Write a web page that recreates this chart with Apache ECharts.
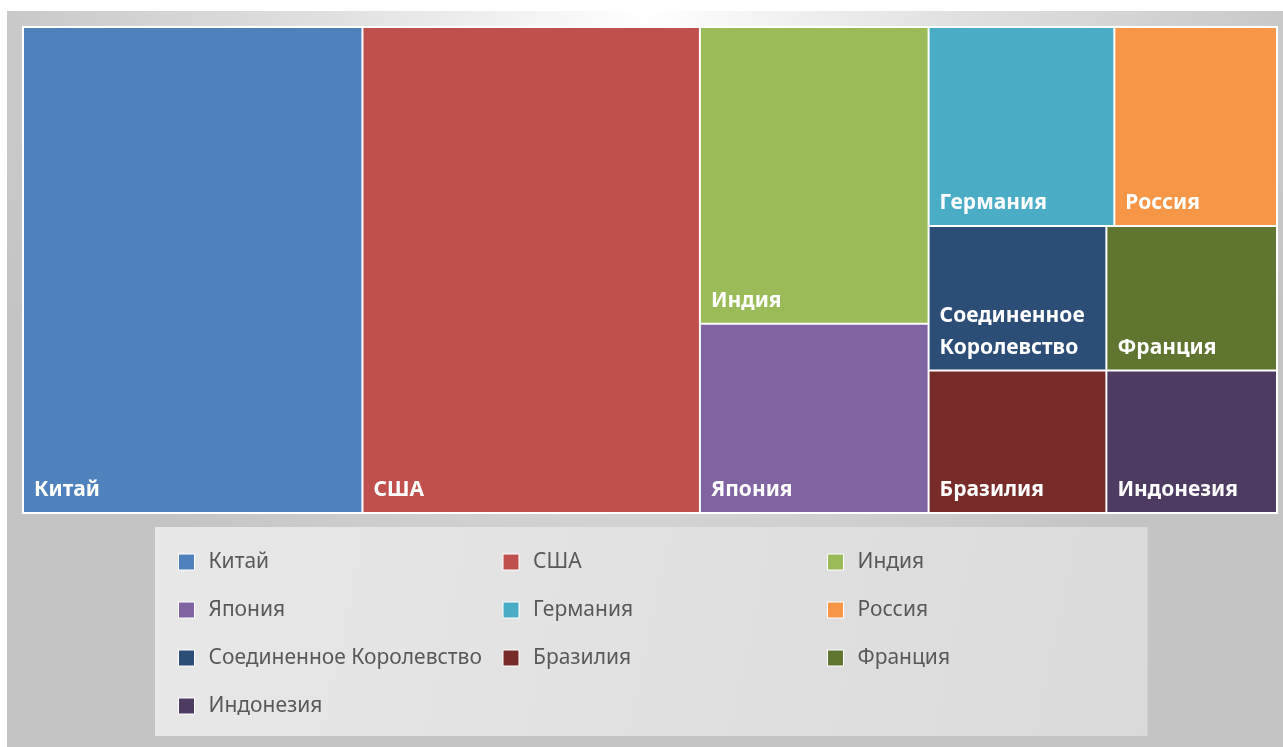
<!DOCTYPE html>
<html>
<head>
<meta charset="utf-8">
<script src="https://cdn.jsdelivr.net/npm/echarts@6/dist/echarts.min.js"></script>
<style>
  html, body { margin: 0; padding: 0; background: #fff; }
  #main { position: absolute; left: 7px; top: 11px; width: 1276px; height: 736px; }
</style>
</head>
<body>
<div id="main"></div>
<script>
  // категории и значения (оценка по площади прямоугольников)
  var countries = ['Китай', 'США', 'Индия', 'Япония', 'Германия', 'Россия',
    'Соединенное Королевство', 'Бразилия', 'Франция', 'Индонезия']
  var values = [27.3, 27.14, 11.23, 7.16, 6.12, 5.36, 4.25, 4.19, 4.08, 4.02]
  var colors = ['#4F81BD', '#C0504D', '#9BBB59', '#8064A2', '#4BACC6', '#F79646',
    '#2C4D75', '#772C2A', '#5F7530', '#4D3B62']

  var myChart = echarts.init(document.getElementById('main'))

  var treeData = countries.map(function (name, i) {
    return { name: name, value: values[i], itemStyle: { color: colors[i] } }
  })
  var legendData = countries.map(function (name, i) {
    return { name: name, value: values[i], itemStyle: { color: colors[i] } }
  })

  var option = {
    backgroundColor: {
      type: 'radial', x: 0.5, y: 0.0, r: 0.95,
      colorStops: [
        { offset: 0, color: '#ffffff' },
        { offset: 0.45, color: '#e0e0e0' },
        { offset: 1, color: '#c4c4c4' },
      ],
    },
    animation: false,
    legend: {
      left: 148,
      top: 516,
      width: 960,
      padding: [20, 14, 15, 23],
      itemGap: 18,
      itemWidth: 16,
      itemHeight: 16,
      icon: 'rect',
      backgroundColor: {
        type: 'linear', x: 0, y: 0, x2: 1, y2: 1,
        colorStops: [
          { offset: 0, color: '#e8e8e8' },
          { offset: 1, color: '#dadada' },
        ],
      },
      itemStyle: { borderColor: '#ffffff', borderWidth: 1 },
      textStyle: {
        fontFamily: 'Noto Sans',
        fontSize: 21,
        color: '#595959',
        width: 276,
        overflow: 'none',
        lineHeight: 30,
        padding: [0, 0, 0, 9],
      },
      data: countries,
      selectedMode: false,
    },
    series: [
      {
        // только для легенды
        type: 'pie',
        radius: [0, 0],
        center: [-100, -100],
        silent: true,
        label: { show: false },
        labelLine: { show: false },
        data: legendData,
      },
      {
        type: 'treemap',
        left: 15,
        top: 15,
        width: 1256,
        height: 488,
        squareRatio: 1,
        roam: false,
        nodeClick: false,
        breadcrumb: { show: false },
        itemStyle: { borderColor: '#ffffff', borderWidth: 1, gapWidth: 0 },
        label: {
          show: true,
          position: 'insideBottomLeft',
          fontFamily: 'Noto Sans',
          fontWeight: 'bold',
          fontSize: 21,
          color: '#ffffff',
          lineHeight: 32,
          padding: [0, 0, 6, 10],
          formatter: function (p) {
            return p.name.replace(' ', '\n')
          },
        },
        data: treeData,
      },
    ],
  }

  myChart.setOption(option)
</script>
</body>
</html>
